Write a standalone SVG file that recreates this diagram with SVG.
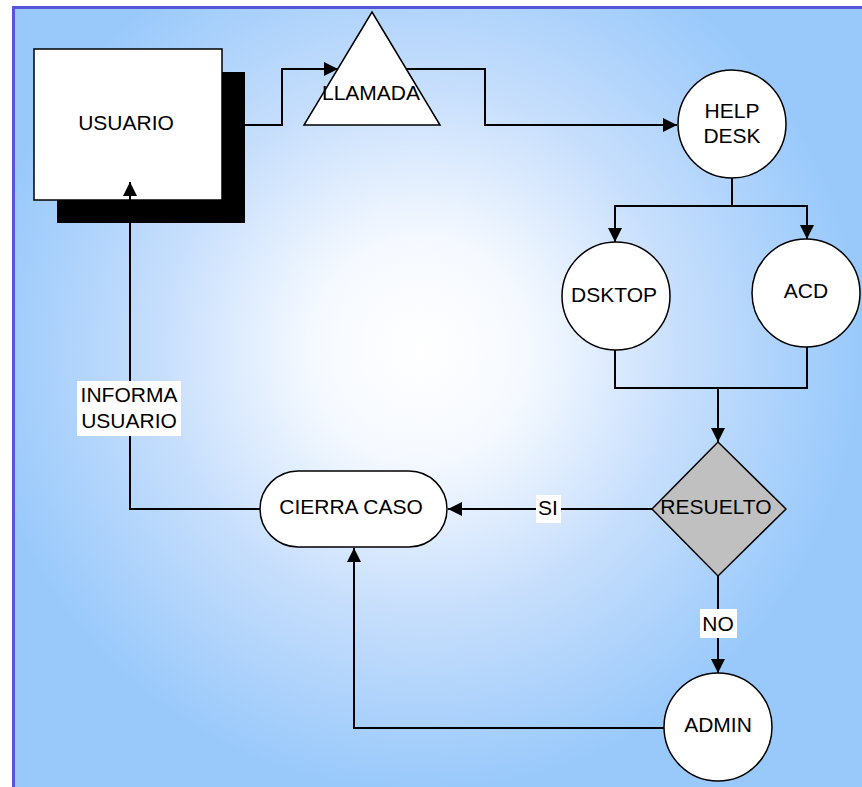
<svg xmlns="http://www.w3.org/2000/svg" width="862" height="787" viewBox="0 0 862 787">
  <defs>
    <radialGradient id="bg" gradientUnits="userSpaceOnUse" cx="420" cy="350" r="440">
      <stop offset="0" stop-color="#ffffff"/>
      <stop offset="0.25" stop-color="#f5f9ff"/>
      <stop offset="0.6" stop-color="#c6defc"/>
      <stop offset="1" stop-color="#99c9fb"/>
    </radialGradient>
    <marker id="arr" viewBox="0 0 10 10" refX="10" refY="5" markerWidth="14" markerHeight="14" markerUnits="userSpaceOnUse" orient="auto">
      <path d="M0,0 L10,5 L0,10 z" fill="#000"/>
    </marker>
  </defs>
  <style>
    .node { fill: #ffffff; stroke: #000; stroke-width: 1.5; }
    .lbl { font-family: "Liberation Sans", Arial, sans-serif; font-size: 21px; fill: #000; text-anchor: middle; }
    .wire { fill: none; stroke: #000; stroke-width: 2; }
    .tag { fill: #ffffff; }
  </style>

  <!-- canvas -->
  <rect x="0" y="0" width="862" height="787" fill="#ffffff"/>
  <rect x="12" y="6" width="860" height="790" fill="url(#bg)"/>
  <path d="M13.5,800 L13.5,7.5 L870,7.5" fill="none" stroke="#5656dc" stroke-width="3"/>

  <g id="usuario">
    <rect x="57" y="72" width="188" height="151" fill="#000"/>
    <rect class="node" x="34" y="49" width="188" height="151"/>
    <text class="lbl" x="126" y="130">USUARIO</text>
  </g>

  <g id="llamada">
    <polygon class="node" points="372,12 440,125 304,125"/>
    <text class="lbl" x="371" y="100">LLAMADA</text>
  </g>

  <g id="helpdesk">
    <circle class="node" cx="732" cy="124" r="54"/>
    <text class="lbl" x="732" y="118">HELP</text>
    <text class="lbl" x="732" y="143">DESK</text>
  </g>

  <g id="dsktop">
    <circle class="node" cx="616" cy="296" r="54"/>
    <text class="lbl" x="614" y="302">DSKTOP</text>
  </g>

  <g id="acd">
    <circle class="node" cx="806" cy="293" r="54"/>
    <text class="lbl" x="806" y="298">ACD</text>
  </g>

  <g id="resuelto">
    <polygon points="718,442 786,509 718,576 652,509" fill="#c0c0c0" stroke="#000" stroke-width="1.5"/>
    <text class="lbl" x="716" y="514">RESUELTO</text>
  </g>

  <g id="admin">
    <circle class="node" cx="718" cy="727" r="54"/>
    <text class="lbl" x="718" y="732">ADMIN</text>
  </g>

  <g id="cierracaso">
    <rect class="node" x="260" y="471" width="187" height="76" rx="38" ry="38"/>
    <text class="lbl" x="351" y="514">CIERRA CASO</text>
  </g>

  <!-- connectors, drawn over the shapes -->
  <g id="connectors">
    <path class="wire" d="M245,125 H282 V69 H338" marker-end="url(#arr)"/>
    <path class="wire" d="M406,69 H485 V125 H677" marker-end="url(#arr)"/>
    <path class="wire" d="M732,178 V206 H615 V242" marker-end="url(#arr)"/>
    <path class="wire" d="M732,206 H807 V239" marker-end="url(#arr)"/>
    <path class="wire" d="M615,350 V388 H807 V347"/>
    <path class="wire" d="M718,388 V442" marker-end="url(#arr)"/>
    <path class="wire" d="M652,509 H448" marker-end="url(#arr)"/>
    <path class="wire" d="M718,576 V673" marker-end="url(#arr)"/>
    <path class="wire" d="M664,728 H354 V548" marker-end="url(#arr)"/>
    <path class="wire" d="M260,509 H130 V182" marker-end="url(#arr)"/>
    <!-- edge labels -->
    <rect class="tag" x="536" y="495" width="25" height="28"/>
    <text class="lbl" x="548" y="515">SI</text>
    <rect class="tag" x="700" y="609" width="37" height="29"/>
    <text class="lbl" x="718" y="631">NO</text>
    <rect class="tag" x="77" y="381" width="104" height="55"/>
    <text class="lbl" x="129" y="402">INFORMA</text>
    <text class="lbl" x="129" y="428">USUARIO</text>
  </g>
</svg>
